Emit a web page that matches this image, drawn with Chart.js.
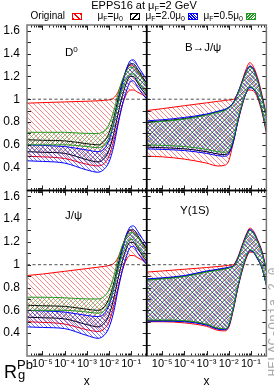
<!DOCTYPE html>
<html><head><meta charset="utf-8">
<script src="https://cdn.jsdelivr.net/npm/chart.js@4.4.0/dist/chart.umd.min.js"></script>
<style>
html,body{margin:0;padding:0;background:#fff;width:274px;height:391px;overflow:hidden;font-family:"Liberation Sans",Arial,sans-serif;}
#c{position:absolute;left:0;top:0;}
.t{position:absolute;white-space:nowrap;color:#000;line-height:1;}
.t sub{font-size:0.7em;vertical-align:-0.3em;line-height:0;}
.t sup{font-size:0.7em;vertical-align:0.45em;line-height:0;}
.box{position:absolute;top:13px;width:8px;height:5px;}
</style></head><body>
<canvas id="c" width="274" height="391"></canvas>
<div class="t" style="left:44px;width:200px;text-align:center;top:0px;font-size:11px;">EPPS16 at μ<sub>F</sub>=2 GeV</div>
<div class="t" style="right:209px;top:10.5px;font-size:10px;">Original</div>
<div class="box" style="left:72px;border:1px solid #f00;background:repeating-linear-gradient(45deg,#f00 0 1px,transparent 1px 4px);"></div>
<div class="t" style="right:151px;top:10.5px;font-size:10px;">μ<sub>F</sub>=μ<sub>0</sub></div>
<div class="box" style="left:130px;border:1px solid #000;background:repeating-linear-gradient(135deg,#000 0 1px,transparent 1px 4px);"></div>
<div class="t" style="right:89px;top:10.5px;font-size:10px;">μ<sub>F</sub>=2.0μ<sub>0</sub></div>
<div class="box" style="left:188px;border:1px solid #00f;background:repeating-linear-gradient(45deg,#00f 0 1px,transparent 1px 2px);"></div>
<div class="t" style="right:31px;top:10.5px;font-size:10px;">μ<sub>F</sub>=0.5μ<sub>0</sub></div>
<div class="box" style="left:246px;border:1px solid #229922;background:repeating-linear-gradient(135deg,#229922 0 1px,transparent 1px 2px);"></div>
<div class="t" style="left:65px;top:47px;font-size:11.5px;">D<sup>0</sup></div>
<div class="t" style="left:185px;top:42px;font-size:11.5px;">B→J/ψ</div>
<div class="t" style="left:65px;top:210px;font-size:11.5px;">J/ψ</div>
<div class="t" style="left:180px;top:205px;font-size:11.5px;">Υ(1S)</div>
<div class="t" style="left:4px;top:363px;font-size:18px;">R</div>
<div class="t" style="left:17px;top:358px;font-size:13px;">Pb</div>
<div class="t" style="left:18px;top:368px;font-size:13px;">g</div>
<div class="t" style="left:214px;top:315px;width:120px;height:14px;line-height:14px;text-align:center;font-size:13px;font-family:'Liberation Mono',monospace;color:#aaa;transform:rotate(-90deg);">HELAC-Onia 2.0</div>
<script>
// ---- data ----
const xMin = 2e-6, xMax = 0.5;
const xs = [2e-6, 1e-5, 1e-4, 1e-3, 3.2e-3, 6.3e-3, 1e-2, 1.6e-2, 2.5e-2, 4e-2, 6.3e-2, 8.9e-2, 0.126, 0.2, 0.316, 0.5];
const xTickValues = [1e-5, 1e-4, 1e-3, 1e-2, 1e-1];
const xTickLabels = ['10⁻⁵', '10⁻⁴', '10⁻³', '10⁻²', '10⁻¹'];
const yTickValues = [0.4, 0.6, 0.8, 1.0, 1.2, 1.4, 1.6];
const yTickLabels = ['0.4', '0.6', '0.8', '1', '1.2', '1.4', '1.6'];
const yMarks = [0.3, 0.4, 0.5, 0.6, 0.7, 0.8, 0.9, 1.0, 1.1, 1.2, 1.3, 1.4, 1.5, 1.6];
const refLine = [1, 1];
const seriesNames = ['Original', 'μF=μ0', 'μF=2.0μ0', 'μF=0.5μ0'];

// D0 (top-left)
const d0RedHi   = [0.965, 0.97, 0.976, 0.982, 0.986, 0.99, 0.994, 1.01, 1.06, 1.16, 1.26, 1.30, 1.29, 1.24, 1.19, 1.14];
const d0RedLo   = [0.50, 0.495, 0.48, 0.43, 0.415, 0.44, 0.50, 0.63, 0.79, 0.95, 1.05, 1.08, 1.08, 1.06, 1.04, 1.01];
const d0BlackHi = [0.645, 0.64, 0.635, 0.61, 0.60, 0.635, 0.705, 0.83, 0.995, 1.15, 1.27, 1.31, 1.31, 1.26, 1.20, 1.14];
const d0BlackLo = [0.54, 0.535, 0.525, 0.47, 0.45, 0.485, 0.555, 0.69, 0.865, 1.03, 1.15, 1.20, 1.20, 1.14, 1.08, 1.03];
const d0BlueHi  = [0.60, 0.595, 0.585, 0.555, 0.54, 0.57, 0.64, 0.78, 0.96, 1.13, 1.27, 1.335, 1.345, 1.29, 1.23, 1.17];
const d0BlueLo  = [0.46, 0.455, 0.44, 0.38, 0.36, 0.39, 0.45, 0.58, 0.77, 0.95, 1.08, 1.15, 1.16, 1.10, 1.05, 1.00];
const d0GreenHi = [0.71, 0.71, 0.71, 0.70, 0.70, 0.725, 0.78, 0.89, 1.04, 1.17, 1.25, 1.28, 1.28, 1.24, 1.18, 1.12];
const d0GreenLo = [0.60, 0.60, 0.60, 0.585, 0.575, 0.60, 0.665, 0.79, 0.95, 1.09, 1.18, 1.22, 1.22, 1.16, 1.10, 1.05];

// B -> J/psi (top-right)
const bjRedHi   = [0.90, 0.917, 0.943, 0.968, 0.981, 0.988, 0.993, 0.998, 1.05, 1.16, 1.27, 1.32, 1.29, 1.19, 1.04, 0.86];
const bjRedLo   = [0.50, 0.495, 0.475, 0.44, 0.415, 0.42, 0.46, 0.62, 0.79, 0.94, 1.06, 1.08, 1.075, 1.01, 0.885, 0.70];
const bjBlackHi = [0.80, 0.81, 0.83, 0.865, 0.89, 0.905, 0.925, 0.965, 1.045, 1.145, 1.245, 1.285, 1.265, 1.165, 1.015, 0.845];
const bjBlackLo = [0.58, 0.575, 0.565, 0.54, 0.52, 0.515, 0.53, 0.63, 0.80, 0.955, 1.065, 1.105, 1.095, 1.035, 0.905, 0.725];
const bjBlueHi  = [0.81, 0.82, 0.84, 0.87, 0.895, 0.91, 0.93, 0.97, 1.05, 1.15, 1.25, 1.29, 1.27, 1.17, 1.02, 0.85];
const bjBlueLo  = [0.565, 0.56, 0.55, 0.525, 0.505, 0.50, 0.52, 0.62, 0.79, 0.95, 1.06, 1.10, 1.09, 1.03, 0.90, 0.72];
const bjGreenHi = [0.795, 0.805, 0.825, 0.86, 0.885, 0.90, 0.92, 0.96, 1.04, 1.14, 1.24, 1.28, 1.26, 1.16, 1.01, 0.84];
const bjGreenLo = [0.60, 0.595, 0.585, 0.56, 0.54, 0.535, 0.55, 0.65, 0.81, 0.96, 1.07, 1.11, 1.10, 1.04, 0.91, 0.73];

// J/psi (bottom-left)
const jpRedHi   = [0.905, 0.918, 0.942, 0.966, 0.978, 0.986, 0.993, 1.01, 1.06, 1.16, 1.26, 1.30, 1.29, 1.24, 1.19, 1.14];
const jpRedLo   = [0.50, 0.495, 0.48, 0.43, 0.415, 0.44, 0.50, 0.63, 0.79, 0.95, 1.05, 1.08, 1.08, 1.06, 1.04, 1.01];
const jpBlackHi = [0.645, 0.64, 0.635, 0.61, 0.60, 0.635, 0.705, 0.83, 0.995, 1.15, 1.27, 1.305, 1.305, 1.255, 1.195, 1.14];
const jpBlackLo = [0.54, 0.535, 0.525, 0.475, 0.455, 0.49, 0.56, 0.695, 0.87, 1.03, 1.15, 1.195, 1.195, 1.14, 1.08, 1.03];
const jpBlueHi  = [0.60, 0.595, 0.585, 0.555, 0.545, 0.575, 0.645, 0.785, 0.96, 1.13, 1.27, 1.33, 1.34, 1.29, 1.23, 1.17];
const jpBlueLo  = [0.455, 0.45, 0.44, 0.38, 0.355, 0.385, 0.45, 0.58, 0.77, 0.95, 1.08, 1.15, 1.16, 1.10, 1.05, 1.00];
const jpGreenHi = [0.715, 0.715, 0.71, 0.70, 0.70, 0.725, 0.78, 0.89, 1.04, 1.17, 1.25, 1.28, 1.28, 1.24, 1.18, 1.12];
const jpGreenLo = [0.60, 0.60, 0.60, 0.585, 0.575, 0.60, 0.665, 0.79, 0.95, 1.09, 1.18, 1.22, 1.22, 1.16, 1.10, 1.05];

// Upsilon(1S) (bottom-right)
const upRedHi   = [0.935, 0.945, 0.96, 0.975, 0.984, 0.99, 0.995, 1.00, 1.06, 1.17, 1.27, 1.32, 1.30, 1.22, 1.12, 0.96];
const upRedLo   = [0.50, 0.50, 0.49, 0.46, 0.425, 0.42, 0.45, 0.60, 0.78, 0.94, 1.06, 1.11, 1.11, 1.05, 0.97, 0.82];
const upBlackHi = [0.87, 0.88, 0.90, 0.94, 0.955, 0.965, 0.975, 0.988, 1.045, 1.155, 1.255, 1.30, 1.285, 1.205, 1.105, 0.945];
const upBlackLo = [0.51, 0.51, 0.505, 0.475, 0.44, 0.435, 0.465, 0.615, 0.795, 0.955, 1.075, 1.125, 1.115, 1.055, 0.975, 0.825];
const upBlueHi  = [0.875, 0.885, 0.905, 0.945, 0.96, 0.97, 0.978, 0.99, 1.05, 1.16, 1.26, 1.31, 1.29, 1.21, 1.11, 0.95];
const upBlueLo  = [0.505, 0.505, 0.50, 0.47, 0.435, 0.43, 0.46, 0.61, 0.79, 0.95, 1.07, 1.12, 1.11, 1.05, 0.97, 0.82];
const upGreenHi = [0.865, 0.875, 0.895, 0.935, 0.95, 0.96, 0.97, 0.985, 1.04, 1.15, 1.25, 1.30, 1.28, 1.20, 1.10, 0.94];
const upGreenLo = [0.515, 0.515, 0.51, 0.48, 0.445, 0.44, 0.47, 0.62, 0.80, 0.96, 1.08, 1.13, 1.12, 1.06, 0.98, 0.83];

// ---- build ----
const canvas = document.getElementById('c');
const ctx = canvas.getContext('2d');
function hatch(color, size, dir, lw) {
  const c = document.createElement('canvas'); c.width = size; c.height = size;
  const g = c.getContext('2d'); g.strokeStyle = color; g.lineWidth = lw; g.beginPath();
  if (dir === '/' || dir === 'x') { g.moveTo(0, size); g.lineTo(size, 0); g.moveTo(-1, 1); g.lineTo(1, -1); g.moveTo(size - 1, size + 1); g.lineTo(size + 1, size - 1); }
  if (dir === '\\' || dir === 'x') { g.moveTo(0, 0); g.lineTo(size, size); g.moveTo(-1, size - 1); g.lineTo(1, size + 1); g.moveTo(size - 1, -1); g.lineTo(size + 1, 1); }
  g.stroke();
  return ctx.createPattern(c, 'repeat');
}
const GREEN = '#229922';
const styles = [
  {color: GREEN, pat: hatch('rgba(34,153,34,0.75)', 4, '/', 0.7)},
  {color: '#0000ff', pat: hatch('rgba(0,0,255,0.75)', 4, '\\', 0.7)},
  {color: '#000000', pat: hatch('rgba(0,0,0,0.7)', 5, '/', 0.6)},
  {color: '#ff0000', pat: hatch('rgba(255,0,0,0.8)', 5, '\\', 0.6)}
];
const panels = [
  {x: 'xL', y: 'yTop', sets: [[d0GreenHi, d0GreenLo], [d0BlueHi, d0BlueLo], [d0BlackHi, d0BlackLo], [d0RedHi, d0RedLo]]},
  {x: 'xR', y: 'yTop', sets: [[bjGreenHi, bjGreenLo], [bjBlueHi, bjBlueLo], [bjBlackHi, bjBlackLo], [bjRedHi, bjRedLo]]},
  {x: 'xL', y: 'yBot', sets: [[jpGreenHi, jpGreenLo], [jpBlueHi, jpBlueLo], [jpBlackHi, jpBlackLo], [jpRedHi, jpRedLo]]},
  {x: 'xR', y: 'yBot', sets: [[upGreenHi, upGreenLo], [upBlueHi, upBlueLo], [upBlackHi, upBlackLo], [upRedHi, upRedLo]]}
];
const pts = arr => xs.map((x, i) => ({x: x, y: arr[i]}));
const datasets = [];
panels.forEach(p => {
  datasets.push({data: [{x: xMin, y: refLine[0]}, {x: xMax, y: refLine[1]}], xAxisID: p.x, yAxisID: p.y,
    borderColor: '#222', borderWidth: 0.8, borderDash: [3, 2.5], fill: false, cubicInterpolationMode: 'default', tension: 0});
  p.sets.forEach((pair, k) => {
    const st = styles[k];
    datasets.push({label: seriesNames[3 - k], data: pts(pair[0]), xAxisID: p.x, yAxisID: p.y,
      borderColor: st.color, borderWidth: 1, backgroundColor: st.pat, fill: '+1'});
    datasets.push({data: pts(pair[1]), xAxisID: p.x, yAxisID: p.y,
      borderColor: st.color, borderWidth: 1, fill: false});
  });
});

let xMinor = [];
for (let d = -6; d <= -1; d++) for (let k = 2; k <= 9; k++) { const v = k * Math.pow(10, d); if (v > xMin * 1.01 && v < xMax * 0.99) xMinor.push(v); }
const quads = panels.map(p => [p.x, p.y]);

const framePlugin = {
  id: 'frames',
  afterDatasetsDraw(chart) {
    const c = chart.ctx;
    c.save();
    quads.forEach(q => {
      const sx = chart.scales[q[0]], sy = chart.scales[q[1]];
      const L = sx.left, R = sx.right, T = sy.top, B = sy.bottom;
      c.strokeStyle = '#222'; c.lineWidth = 1;
      c.beginPath();
      xTickValues.forEach(v => { const p = Math.round(sx.getPixelForValue(v)) + 0.5; c.moveTo(p, B); c.lineTo(p, B - 5); c.moveTo(p, T); c.lineTo(p, T + 5); });
      xMinor.forEach(v => { const p = Math.round(sx.getPixelForValue(v)) + 0.5; c.moveTo(p, B); c.lineTo(p, B - 2.5); c.moveTo(p, T); c.lineTo(p, T + 2.5); });
      yMarks.forEach(v => { const p = Math.round(sy.getPixelForValue(v)) + 0.5; c.moveTo(L, p); c.lineTo(L + 4, p); c.moveTo(R, p); c.lineTo(R - 4, p); });
      c.stroke();
      c.strokeStyle = '#777'; c.lineWidth = 1.5;
      c.strokeRect(L, T, R - L, B - T);
    });
    const mx = chart.scales.xL.right, my = chart.scales.yTop.bottom;
    c.strokeStyle = '#000'; c.lineWidth = 1.6;
    c.beginPath();
    c.moveTo(mx, chart.chartArea.top); c.lineTo(mx, chart.chartArea.bottom);
    c.moveTo(chart.chartArea.left, my); c.lineTo(chart.chartArea.right, my);
    c.stroke();
    c.restore();
  }
};

const FONT = "'Liberation Sans', Arial, sans-serif";
function yScale() {
  return {type: 'linear', position: 'left', stack: 'v', stackWeight: 1, min: 0.2, max: 1.65,
    grid: {display: false, drawTicks: false}, border: {display: false},
    afterBuildTicks: s => { s.ticks = yTickValues.map(v => ({value: v})); },
    afterFit: s => { s.width = 27; },
    ticks: {autoSkip: false, padding: 7, color: '#000', font: {family: FONT, size: 12}, callback: (v, i) => yTickLabels[i]}};
}
function xScale() {
  return {type: 'logarithmic', position: 'bottom', stack: 'h', stackWeight: 1, min: xMin, max: xMax,
    grid: {display: false, drawTicks: false}, border: {display: false},
    afterBuildTicks: s => { s.ticks = xTickValues.map(v => ({value: v})); },
    afterFit: s => { s.height = 35; },
    ticks: {autoSkip: false, maxRotation: 0, minRotation: 0, padding: 1, color: '#000', font: {family: FONT, size: 11}, callback: (v, i) => xTickLabels[i]},
    title: {display: true, text: 'x', color: '#000', font: {family: FONT, size: 12}, padding: {top: 0, bottom: 2}}};
}

new Chart(ctx, {
  type: 'line',
  data: {datasets: datasets},
  options: {
    responsive: false, animation: false, devicePixelRatio: 1,
    layout: {padding: {top: 25, right: 7, left: 0, bottom: 0}},
    plugins: {legend: {display: false}, tooltip: {enabled: false}, title: {display: false}},
    elements: {point: {radius: 0}, line: {cubicInterpolationMode: 'monotone'}},
    scales: {yBot: yScale(), yTop: yScale(), xL: xScale(), xR: xScale()}
  },
  plugins: [framePlugin]
});
</script>
</body></html>
